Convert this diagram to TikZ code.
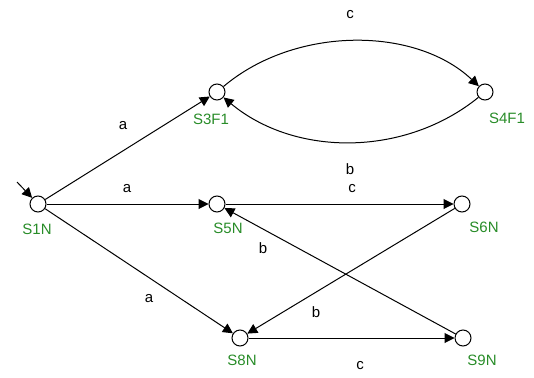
\documentclass[tikz,border=0pt]{standalone}
\usepackage{fontspec}
\setmainfont{Liberation Sans}
\usetikzlibrary{arrows.meta}
\definecolor{stgreen}{RGB}{40,140,40}
\begin{document}
\begin{tikzpicture}[x=1pt,y=-1pt,
  state/.style={circle,draw,line width=1pt,minimum size=16pt,inner sep=0pt,fill=white},
  slabel/.style={text=stgreen,font=\fontsize{15}{17}\selectfont},
  elabel/.style={font=\fontsize{15}{17}\selectfont},
  tr/.style={line width=1pt,-{Triangle[length=10pt,width=10pt]}}]
\useasboundingbox (0,0) rectangle (534,377);
\node[state] (s1) at (38,204) {};
\node[state] (s3) at (217,92) {};
\node[state] (s4) at (485,92) {};
\node[state] (s5) at (217,204) {};
\node[state] (s6) at (462,204) {};
\node[state] (s8) at (240,338) {};
\node[state] (s9) at (463,338) {};
\node[slabel] (l1) at (37,229) {S1N};
\node[slabel] (l3) at (211,119) {S3F1};
\node[slabel] (l4) at (507,118) {S4F1};
\node[slabel] (l5) at (228,228) {S5N};
\node[slabel] (l6) at (484,227) {S6N};
\node[slabel] (l8) at (242,360) {S8N};
\node[slabel] (l9) at (482,360) {S9N};
\coordinate (init) at (17,182);
\draw[tr] (init) -- (s1);
\draw[tr] (s1) -- (s3);
\draw[tr] (s1) -- (s5);
\draw[tr] (s1) -- (s8);
\draw[tr] (s3) .. controls (295,26) and (415,26) .. (s4);
\draw[tr] (s4) .. controls (405,157) and (295,157) .. (s3);
\draw[tr] (s5) -- (s6);
\draw[tr] (s6) -- (s8);
\draw[tr] (s9) -- (s5);
\draw[tr] (s8) -- (s9);
\node[elabel] (e1) at (123,126) {a};
\node[elabel] (e2) at (127,189) {a};
\node[elabel] (e3) at (149,299) {a};
\node[elabel] (e4) at (350,15) {c};
\node[elabel] (e5) at (350,169) {b};
\node[elabel] (e6) at (352,189) {c};
\node[elabel] (e7) at (263,248) {b};
\node[elabel] (e8) at (316,312) {b};
\node[elabel] (e9) at (360,366) {c};
\end{tikzpicture}
\end{document}
